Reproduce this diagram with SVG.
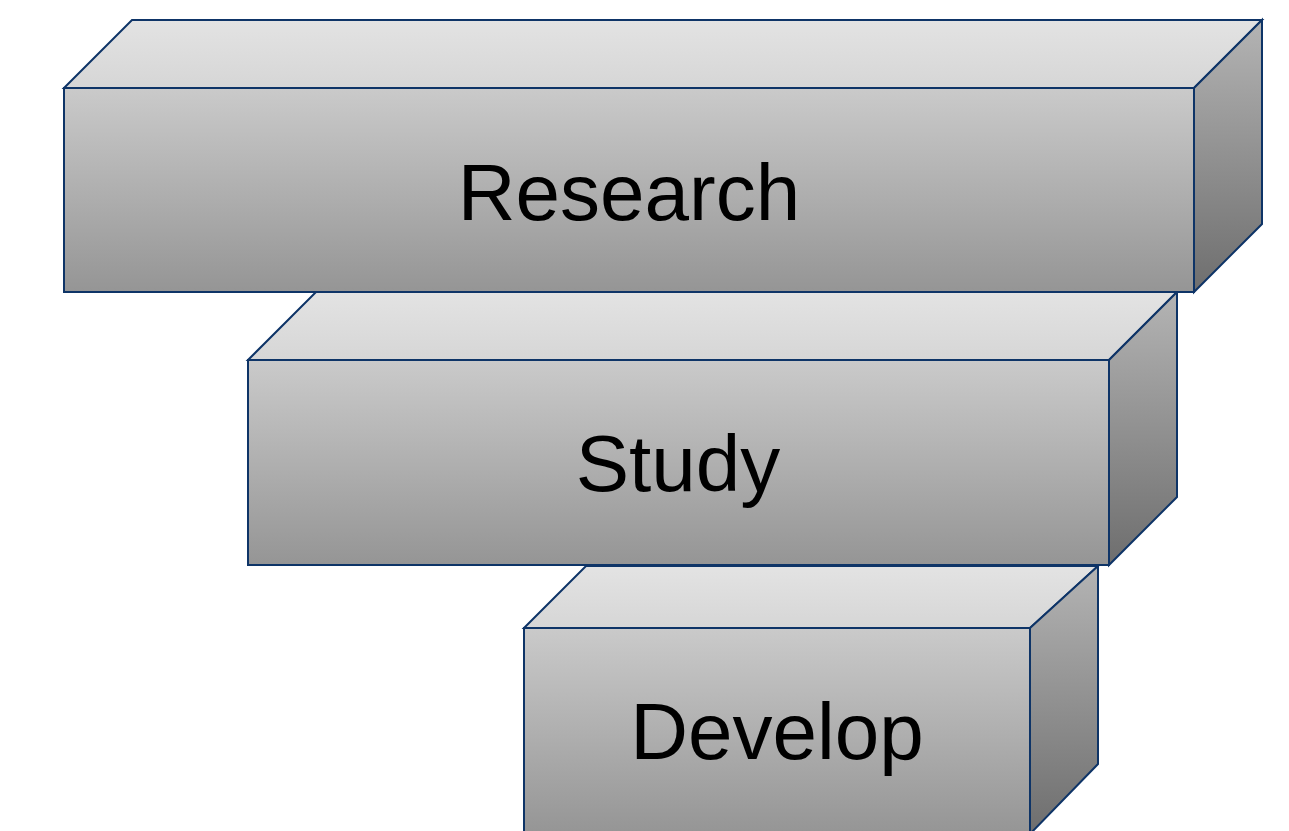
<svg xmlns="http://www.w3.org/2000/svg" width="1289" height="831" viewBox="0 0 1289 831">
  <defs>
    <linearGradient id="gFront" x1="0" y1="0" x2="0" y2="1">
      <stop offset="0" stop-color="#cacaca"/>
      <stop offset="1" stop-color="#959595"/>
    </linearGradient>
    <linearGradient id="gTop" x1="0" y1="0" x2="0" y2="1">
      <stop offset="0" stop-color="#e3e3e3"/>
      <stop offset="1" stop-color="#d6d6d6"/>
    </linearGradient>
    <linearGradient id="gSide" x1="0" y1="0" x2="0" y2="1">
      <stop offset="0" stop-color="#b4b4b4"/>
      <stop offset="1" stop-color="#6e6e6e"/>
    </linearGradient>
  </defs>
  <style>
    .edge { stroke: #0e3467; stroke-width: 2; stroke-linejoin: miter; }
    .front { fill: url(#gFront); }
    .top { fill: url(#gTop); }
    .side { fill: url(#gSide); }
    .label { font-family: "Liberation Sans", Arial, sans-serif; font-size: 80px; fill: #000; text-anchor: middle; }
  </style>
  <rect width="1289" height="831" fill="#ffffff"/>

  <!-- bottom block -->
  <g id="develop">
    <polygon class="top edge" points="524,628 586,566 1098,566 1030,628"/>
    <polygon class="side edge" points="1030,628 1098,566 1098,764 1030,834"/>
    <rect class="front edge" x="524" y="628" width="506" height="206"/>
    <text class="label" x="777" y="759">Develop</text>
  </g>

  <!-- middle block -->
  <g id="study">
    <polygon class="top edge" points="248,360 316,292 1177,292 1109,360"/>
    <polygon class="side edge" points="1109,360 1177,292 1177,497 1109,565"/>
    <rect class="front edge" x="248" y="360" width="861" height="205"/>
    <text class="label" x="678" y="491">Study</text>
  </g>

  <!-- top block -->
  <g id="research">
    <polygon class="top edge" points="64,88 132,20 1262,20 1194,88"/>
    <polygon class="side edge" points="1194,88 1262,20 1262,224 1194,292"/>
    <rect class="front edge" x="64" y="88" width="1130" height="204"/>
    <text class="label" x="629" y="220">Research</text>
  </g>
</svg>
